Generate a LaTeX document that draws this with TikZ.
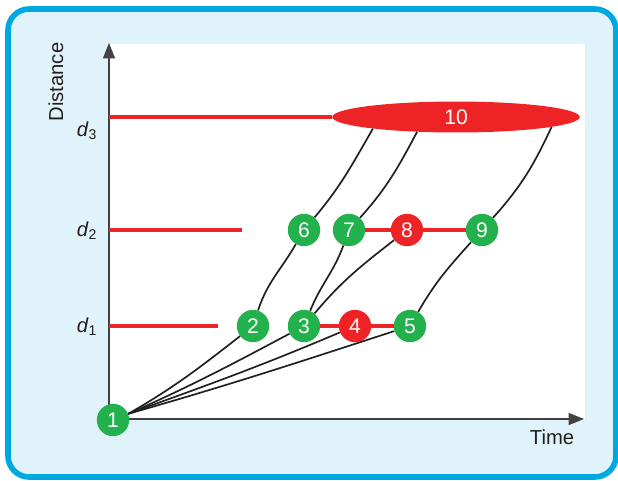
\documentclass[tikz,border=0pt]{standalone}
\usepackage{fontspec}
\setmainfont{Liberation Sans}
\usepackage{xcolor}
\usepackage{tikz}
\usetikzlibrary{arrows.meta, positioning, shapes.geometric}

\definecolor{stgreen}{HTML}{22B14C}
\definecolor{stred}{HTML}{EE2326}
\definecolor{framecol}{HTML}{00A8E1}
\definecolor{panecol}{HTML}{E0F3FA}
\definecolor{inkcol}{HTML}{231F20}

\begin{document}
\begin{tikzpicture}[
    x=0.025cm, y=-0.025cm,
    event/.style={circle, fill=#1, minimum size=23pt, inner sep=0pt, text=white, font=\fontsize{15}{15}\selectfont},
    dline/.style={draw=stred, line width=2.2pt},
    track/.style={draw=inkcol, line width=1.2pt},
    axis/.style={draw=inkcol!85, line width=1.3pt, -{Triangle[length=11pt, width=8.5pt]}},
    axislabel/.style={font=\fontsize{14.4}{16}\selectfont, text=inkcol},
]
\useasboundingbox (0,0) rectangle (618,480);

% frame and plot area
\draw[draw=framecol, fill=panecol, line width=4pt, rounded corners=15pt] (8,9) rectangle (616,477);
\fill[white] (109,44) rectangle (585,419);

% axes
\coordinate (origin) at (109,419);
\coordinate (ytip) at (109,43);
\coordinate (xtip) at (584,419);
\draw[axis] (origin) -- (ytip);
\draw[axis] (origin) -- (xtip);
\node[axislabel, rotate=90] (ylab) at (56,82) {Distance};
\node[axislabel] (xlab) at (552,437) {Time};

% distance levels
\node[axislabel] (d3lab) at (87,131) {\textit{d}\textsubscript{3}};
\node[axislabel] (d2lab) at (87,231) {\textit{d}\textsubscript{2}};
\node[axislabel] (d1lab) at (87,327) {\textit{d}\textsubscript{1}};

% events
\node[event=stgreen] (n1) at (113,420) {1};
\node[event=stgreen] (n2) at (253,326) {2};
\node[event=stgreen] (n3) at (304,326) {3};
\node[event=stred]   (n4) at (355,326) {4};
\node[event=stgreen] (n5) at (410,326) {5};
\node[event=stgreen] (n6) at (304,230) {6};
\node[event=stgreen] (n7) at (349,230) {7};
\node[event=stred]   (n8) at (407,230) {8};
\node[event=stgreen] (n9) at (482,230) {9};
\node[ellipse, fill=stred, minimum width=176pt, minimum height=22pt, inner sep=0pt,
      text=white, font=\fontsize{15}{15}\selectfont] (n10) at (456,117) {10};

% red level lines
\coordinate (d3) at (109,117);
\coordinate (d2) at (109,230);
\coordinate (d2end) at (242,230);
\coordinate (d1) at (109,326);
\coordinate (d1end) at (218,326);
\draw[dline] (d3) -- (n10);
\draw[dline] (d2) -- (d2end);
\draw[dline] (d1) -- (d1end);
\draw[dline] (n3) -- (n4) -- (n5);
\draw[dline] (n7) -- (n8) -- (n9);

% trajectories
\draw[track] (n1.22) to[out=30, in=218] (n2);
\draw[track] (n1.22) to[out=24, in=208] (n3);
\draw[track] (n1.22) to[out=20, in=203] (n4);
\draw[track] (n1.22) to[out=16, in=198] (n5);
\draw[track] (n2) to[out=72, in=240] (n6);
\draw[track] (n6) to[out=50, in=240] (n10.188);
\draw[track] (n3) to[out=68, in=250] (n7);
\draw[track] (n7) to[out=48, in=242] (n10.201);
\draw[track] (n3) to[out=50, in=218] (n8);
\draw[track] (n5) to[out=60, in=228] (n9);
\draw[track] (n9) to[out=48, in=245] (n10.354);

\end{tikzpicture}
\end{document}
